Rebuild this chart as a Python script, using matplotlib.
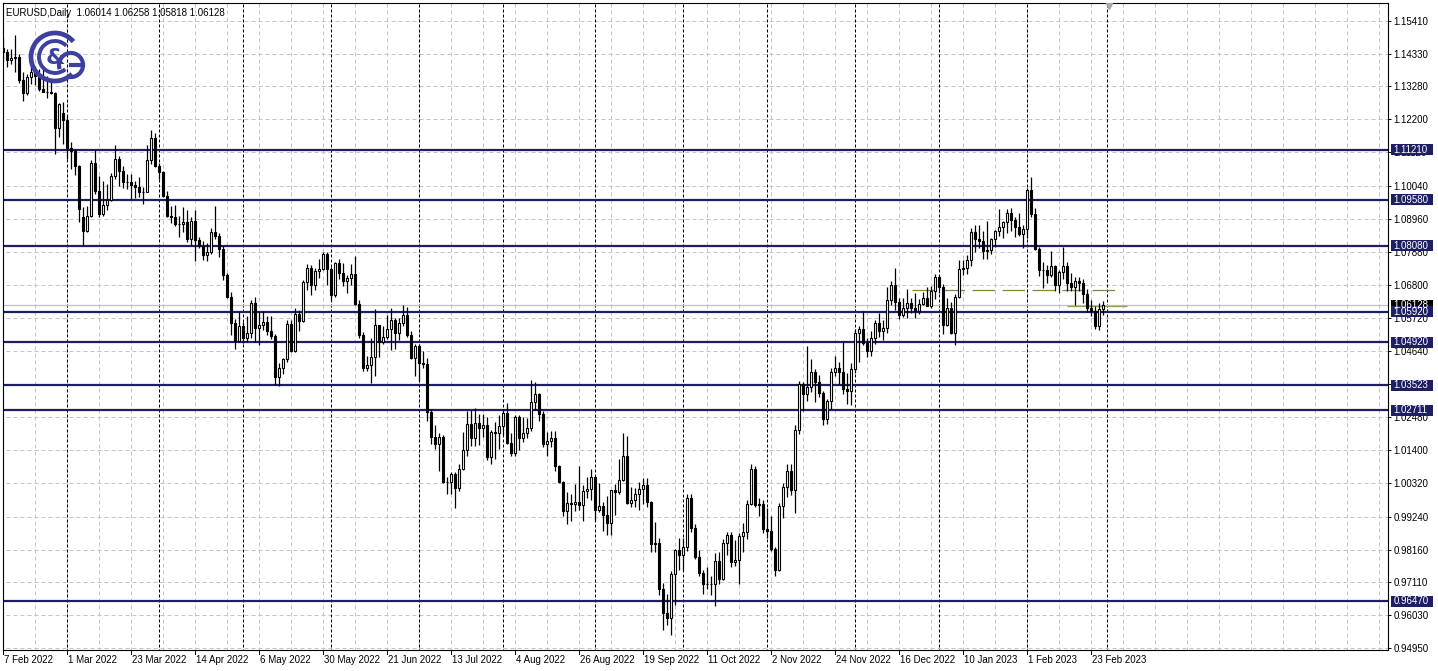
import pandas as pd
import matplotlib
matplotlib.use("Agg")
import matplotlib.pyplot as plt
from matplotlib.patches import Rectangle, Arc
from matplotlib.transforms import blended_transform_factory

plt.rcParams['font.family'] = ['Liberation Sans', 'DejaVu Sans']

# daily EURUSD candles, 7 Feb 2022 .. 28 Feb 2023
opens = [
    1.1452, 1.1440, 1.1415, 1.1420, 1.1425, 1.1348, 1.1306, 1.1358, 1.1374, 1.1360, 1.1320, 1.1309, 1.1308, 1.1307, 1.1192, 1.1240,
    1.1219, 1.1125, 1.1118, 1.1067, 1.0900, 1.0856, 1.0904, 1.1077, 1.0985, 1.0912, 1.0941, 1.0957, 1.1036, 1.1092, 1.1051, 1.1016, 1.1016, 1.1006, 1.0998, 1.0983, 1.0984, 1.1088, 1.1158,
    1.1067, 1.1047, 1.0971, 1.0905, 1.0902, 1.0878, 1.0877, 1.0885, 1.0829, 1.0889, 1.0826, 1.0808, 1.0779, 1.0788, 1.0853, 1.0838, 1.0798, 1.0713, 1.0640, 1.0557, 1.0498,
    1.0545, 1.0508, 1.0523, 1.0620, 1.0540, 1.0550, 1.0560, 1.0531, 1.0513, 1.0380, 1.0410, 1.0437, 1.0553, 1.0465, 1.0585, 1.0562, 1.0690, 1.0734, 1.0679, 1.0725, 1.0733, 1.0780,
    1.0732, 1.0647, 1.0750, 1.0720, 1.0693, 1.0703, 1.0717, 1.0616, 1.0518, 1.0408, 1.0418, 1.0446, 1.0548, 1.0495, 1.0510, 1.0535, 1.0566, 1.0522, 1.0554, 1.0583, 1.0518, 1.0442,
    1.0482, 1.0425, 1.0423, 1.0265, 1.0182, 1.0160, 1.0184, 1.0037, 1.0037, 1.0063, 1.0018, 1.0080, 1.0140, 1.0226, 1.0181, 1.0228, 1.0212, 1.0224, 1.0117, 1.0199, 1.0196,
    1.0220, 1.0262, 1.0165, 1.0132, 1.0248, 1.0181, 1.0197, 1.0212, 1.0298, 1.0323, 1.0257, 1.0160, 1.0170, 1.0179, 1.0088, 1.0036, 0.9943, 0.9969, 0.9966, 0.9973, 0.9963, 1.0006, 1.0015,
    1.0054, 0.9944, 0.9957, 0.9928, 0.9902, 1.0009, 1.0003, 1.0043, 1.0121, 0.9969, 0.9977, 0.9997, 1.0014, 1.0027, 0.9973, 0.9836, 0.9838, 0.9688, 0.9608, 0.9594, 0.9737, 0.9816,
    0.9800, 0.9824, 0.9986, 0.9888, 0.9791, 0.9740, 0.9704, 0.9704, 0.9704, 0.9778, 0.9721, 0.9838, 0.9864, 0.9775, 0.9782, 0.9862, 0.9875, 0.9964, 1.0078, 0.9963, 0.9964,
    0.9882, 0.9877, 0.9818, 0.9750, 0.9959, 1.0019, 1.0073, 1.0011, 1.0207, 1.0356, 1.0325, 1.0348, 1.0395, 1.0363, 1.0326, 1.0242, 1.0302, 1.0396, 1.0408, 1.0397, 1.0339, 1.0333,
    1.0405, 1.0522, 1.0535, 1.0490, 1.0465, 1.0508, 1.0555, 1.0531, 1.0538, 1.0630, 1.0680, 1.0625, 1.0583, 1.0605, 1.0622, 1.0603, 1.0594, 1.0617, 1.0638, 1.0611, 1.0660,
    1.0705, 1.0672, 1.0549, 1.0605, 1.0522, 1.0642, 1.0733, 1.0735, 1.0762, 1.0851, 1.0828, 1.0822, 1.0791, 1.0795, 1.0830, 1.0855, 1.0870, 1.0886, 1.0914, 1.0891, 1.0869, 1.0847,
    1.0863, 1.0990, 1.0912, 1.0798, 1.0727, 1.0727, 1.0712, 1.0740, 1.0678, 1.0723, 1.0741, 1.0687, 1.0673, 1.0694, 1.0686, 1.0650, 1.0604, 1.0596, 1.0546, 1.06014,
]
highs = [
    1.1484, 1.1450, 1.1449, 1.1495, 1.1433, 1.1373, 1.1368, 1.1395, 1.1394, 1.1385, 1.1395, 1.1362, 1.1345, 1.1310, 1.1274, 1.1276,
    1.1234, 1.1145, 1.1124, 1.1070, 1.0935, 1.0937, 1.1089, 1.1121, 1.1036, 1.1018, 1.1010, 1.1045, 1.1137, 1.1101, 1.1069, 1.1042, 1.1041, 1.1019, 1.1032, 1.0998, 1.1137, 1.1185, 1.1175,
    1.1077, 1.1052, 1.0987, 1.0937, 1.0941, 1.0904, 1.0933, 1.0925, 1.0900, 1.0924, 1.0835, 1.0822, 1.0815, 1.0866, 1.0936, 1.0850, 1.0806, 1.0720, 1.0656, 1.0570, 1.0593,
    1.0559, 1.0579, 1.0630, 1.0641, 1.0592, 1.0594, 1.0580, 1.0578, 1.0520, 1.0425, 1.0440, 1.0564, 1.0566, 1.0606, 1.0599, 1.0697, 1.0749, 1.0744, 1.0734, 1.0765, 1.0787, 1.0786,
    1.0737, 1.0753, 1.0764, 1.0750, 1.0711, 1.0748, 1.0774, 1.0630, 1.0525, 1.0447, 1.0506, 1.0601, 1.0550, 1.0546, 1.0583, 1.0606, 1.0573, 1.0571, 1.0615, 1.0607, 1.0530, 1.0487,
    1.0486, 1.0463, 1.0440, 1.0275, 1.0223, 1.0197, 1.0189, 1.0052, 1.0070, 1.0069, 1.0096, 1.0201, 1.0268, 1.0273, 1.0278, 1.0257, 1.0258, 1.0249, 1.0208, 1.0234, 1.0254,
    1.0275, 1.0294, 1.0195, 1.0254, 1.0254, 1.0248, 1.0247, 1.0368, 1.0364, 1.0328, 1.0267, 1.0200, 1.0203, 1.0202, 1.0091, 1.0040, 1.0003, 0.9999, 1.0030, 1.0090, 1.0028, 1.0054, 1.0079,
    1.0056, 1.0034, 0.9970, 0.9990, 1.0011, 1.0030, 1.0113, 1.0198, 1.0186, 1.0020, 1.0018, 1.0037, 1.0050, 1.0051, 0.9976, 0.9905, 0.9853, 0.9706, 0.9672, 0.9747, 0.9817, 0.9854,
    0.9855, 0.9999, 0.9999, 0.9900, 0.9815, 0.9749, 0.9759, 0.9731, 0.9806, 0.9809, 0.9850, 0.9875, 0.9873, 0.9849, 0.9870, 0.9904, 0.9977, 1.0094, 1.0088, 0.9985, 0.9977,
    0.9953, 0.9926, 0.9823, 0.9968, 1.0033, 1.0094, 1.0095, 1.0223, 1.0365, 1.0363, 1.0481, 1.0438, 1.0406, 1.0386, 1.0333, 1.0307, 1.0410, 1.0448, 1.0429, 1.0497, 1.0394, 1.0424,
    1.0535, 1.0545, 1.0595, 1.0505, 1.0531, 1.0564, 1.0588, 1.0566, 1.0673, 1.0694, 1.0736, 1.0637, 1.0637, 1.0666, 1.0638, 1.0655, 1.0634, 1.0658, 1.0672, 1.0677, 1.0714,
    1.0712, 1.0683, 1.0636, 1.0625, 1.0650, 1.0760, 1.0762, 1.0777, 1.0867, 1.0875, 1.0874, 1.0857, 1.0888, 1.0834, 1.0860, 1.0927, 1.0889, 1.0929, 1.0930, 1.0902, 1.0914, 1.0874,
    1.0995, 1.1033, 1.0930, 1.0805, 1.0755, 1.0746, 1.0790, 1.0744, 1.0729, 1.0804, 1.0754, 1.0720, 1.0705, 1.0705, 1.0700, 1.0665, 1.0629, 1.0612, 1.0621, 1.06258,
]
lows = [
    1.1410, 1.1392, 1.1401, 1.1375, 1.1340, 1.1280, 1.1300, 1.1335, 1.1332, 1.1314, 1.1308, 1.1290, 1.1302, 1.1106, 1.1161, 1.1138,
    1.1090, 1.1059, 1.1037, 1.0885, 1.0806, 1.0853, 1.0900, 1.0976, 1.0901, 1.0905, 1.0925, 1.0952, 1.1025, 1.1003, 1.0996, 1.0992, 1.0960, 1.0962, 1.0967, 1.0944, 1.0982, 1.1075, 1.1065,
    1.1027, 1.0966, 1.0900, 1.0883, 1.0871, 1.0837, 1.0852, 1.0820, 1.0808, 1.0757, 1.0801, 1.0761, 1.0757, 1.0782, 1.0830, 1.0770, 1.0697, 1.0636, 1.0515, 1.0471, 1.0493,
    1.0490, 1.0493, 1.0505, 1.0494, 1.0483, 1.0532, 1.0516, 1.0503, 1.0354, 1.0349, 1.0389, 1.0429, 1.0460, 1.0461, 1.0530, 1.0558, 1.0664, 1.0647, 1.0664, 1.0702, 1.0727, 1.0680,
    1.0627, 1.0640, 1.0700, 1.0677, 1.0653, 1.0678, 1.0615, 1.0506, 1.0398, 1.0398, 1.0359, 1.0382, 1.0444, 1.0486, 1.0504, 1.0469, 1.0470, 1.0500, 1.0547, 1.0509, 1.0438, 1.0382,
    1.0366, 1.0410, 1.0236, 1.0161, 1.0143, 1.0072, 1.0033, 0.9999, 0.9998, 0.9952, 1.0008, 1.0075, 1.0123, 1.0153, 1.0153, 1.0159, 1.0183, 1.0109, 1.0096, 1.0113, 1.0145,
    1.0190, 1.0160, 1.0123, 1.0122, 1.0141, 1.0168, 1.0179, 1.0202, 1.0273, 1.0235, 1.0152, 1.0122, 1.0152, 1.0074, 1.0032, 0.9926, 0.9901, 0.9910, 0.9942, 0.9946, 0.9910, 0.9986, 0.9978,
    0.9910, 0.9940, 0.9877, 0.9864, 0.9864, 0.9929, 0.9997, 1.0040, 0.9966, 0.9955, 0.9955, 0.9945, 0.9966, 0.9955, 0.9808, 0.9807, 0.9669, 0.9553, 0.9570, 0.9536, 0.9636, 0.9748,
    0.9751, 0.9810, 0.9875, 0.9784, 0.9730, 0.9670, 0.9686, 0.9668, 0.9632, 0.9705, 0.9716, 0.9800, 0.9758, 0.9764, 0.9705, 0.9809, 0.9852, 0.9963, 0.9955, 0.9925, 0.9870,
    0.9854, 0.9810, 0.9730, 0.9746, 0.9920, 0.9989, 0.9994, 0.9935, 1.0192, 1.0270, 1.0302, 1.0330, 1.0299, 1.0315, 1.0223, 1.0226, 1.0276, 1.0383, 1.0356, 1.0325, 1.0290, 1.0288,
    1.0393, 1.0429, 1.0484, 1.0443, 1.0448, 1.0486, 1.0510, 1.0500, 1.0523, 1.0613, 1.0598, 1.0568, 1.0575, 1.0572, 1.0589, 1.0573, 1.0584, 1.0613, 1.0610, 1.0605, 1.0635,
    1.0653, 1.0519, 1.0546, 1.0520, 1.0483, 1.0637, 1.0712, 1.0714, 1.0740, 1.0788, 1.0800, 1.0766, 1.0765, 1.0780, 1.0804, 1.0840, 1.0834, 1.0848, 1.0856, 1.0837, 1.0838, 1.0801,
    1.0832, 1.0901, 1.0795, 1.0710, 1.0669, 1.0687, 1.0706, 1.0660, 1.0655, 1.0700, 1.0660, 1.0660, 1.0613, 1.0660, 1.0620, 1.0592, 1.0577, 1.0536, 1.0533, 1.05818,
]
closes = [
    1.1440, 1.1415, 1.1420, 1.1425, 1.1348, 1.1306, 1.1358, 1.1374, 1.1360, 1.1320, 1.1309, 1.1308, 1.1307, 1.1192, 1.1270, 1.1219,
    1.1125, 1.1118, 1.1067, 1.0928, 1.0856, 1.0904, 1.1077, 1.0985, 1.0912, 1.0941, 1.0957, 1.1036, 1.1092, 1.1051, 1.1016, 1.1016, 1.1006, 1.0998, 1.0983, 1.0984, 1.1088, 1.1158, 1.1067,
    1.1047, 1.0971, 1.0905, 1.0902, 1.0878, 1.0877, 1.0885, 1.0829, 1.0889, 1.0826, 1.0808, 1.0779, 1.0788, 1.0853, 1.0838, 1.0798, 1.0713, 1.0640, 1.0557, 1.0498, 1.0545,
    1.0508, 1.0523, 1.0620, 1.0540, 1.0550, 1.0560, 1.0531, 1.0513, 1.0380, 1.0410, 1.0437, 1.0553, 1.0465, 1.0585, 1.0562, 1.0690, 1.0734, 1.0679, 1.0725, 1.0733, 1.0780, 1.0732,
    1.0647, 1.0750, 1.0720, 1.0693, 1.0703, 1.0717, 1.0616, 1.0518, 1.0408, 1.0418, 1.0446, 1.0548, 1.0495, 1.0510, 1.0535, 1.0566, 1.0522, 1.0554, 1.0583, 1.0518, 1.0442, 1.0482,
    1.0425, 1.0423, 1.0265, 1.0182, 1.0160, 1.0184, 1.0037, 1.0037, 1.0063, 1.0018, 1.0080, 1.0140, 1.0226, 1.0181, 1.0228, 1.0212, 1.0224, 1.0117, 1.0199, 1.0196, 1.0220,
    1.0262, 1.0165, 1.0132, 1.0248, 1.0181, 1.0197, 1.0212, 1.0298, 1.0323, 1.0257, 1.0160, 1.0170, 1.0179, 1.0088, 1.0036, 0.9943, 0.9969, 0.9966, 0.9973, 0.9963, 1.0006, 1.0015, 1.0054,
    0.9944, 0.9957, 0.9928, 0.9902, 1.0009, 1.0003, 1.0043, 1.0121, 0.9969, 0.9977, 0.9997, 1.0014, 1.0027, 0.9973, 0.9836, 0.9838, 0.9688, 0.9608, 0.9594, 0.9737, 0.9816, 0.9800,
    0.9824, 0.9986, 0.9888, 0.9791, 0.9740, 0.9704, 0.9704, 0.9704, 0.9778, 0.9721, 0.9838, 0.9864, 0.9775, 0.9782, 0.9862, 0.9875, 0.9964, 1.0078, 0.9963, 0.9964, 0.9882,
    0.9877, 0.9818, 0.9750, 0.9959, 1.0019, 1.0073, 1.0011, 1.0207, 1.0356, 1.0325, 1.0348, 1.0395, 1.0363, 1.0326, 1.0242, 1.0302, 1.0396, 1.0408, 1.0397, 1.0339, 1.0333, 1.0405,
    1.0522, 1.0535, 1.0490, 1.0465, 1.0508, 1.0555, 1.0531, 1.0538, 1.0630, 1.0680, 1.0625, 1.0583, 1.0605, 1.0622, 1.0603, 1.0594, 1.0617, 1.0638, 1.0611, 1.0660, 1.0705,
    1.0672, 1.0549, 1.0605, 1.0522, 1.0642, 1.0733, 1.0735, 1.0762, 1.0851, 1.0828, 1.0822, 1.0791, 1.0795, 1.0830, 1.0855, 1.0870, 1.0886, 1.0914, 1.0891, 1.0869, 1.0847, 1.0863,
    1.0990, 1.0912, 1.0798, 1.0727, 1.0727, 1.0712, 1.0740, 1.0678, 1.0723, 1.0741, 1.0687, 1.0673, 1.0694, 1.0686, 1.0650, 1.0604, 1.0596, 1.0546, 1.0601, 1.06128,
]

# horizontal levels drawn on the chart and their price tags
levels = [1.11210, 1.09580, 1.08080, 1.05920, 1.04920, 1.03523, 1.02711, 0.96470]
bid = 1.06128
zone_line = 1.0663      # dashed olive line
zone_line2 = 1.0612

price_ticks = [1.15410, 1.14330, 1.13280, 1.12200, 1.11120, 1.10040, 1.08960, 1.07880,
               1.06800, 1.05720, 1.04640, 1.03560, 1.02480, 1.01400, 1.00320, 0.99240,
               0.98160, 0.97110, 0.96030, 0.94950]
date_labels = ['7 Feb 2022', '1 Mar 2022', '23 Mar 2022', '14 Apr 2022', '6 May 2022',
               '30 May 2022', '21 Jun 2022', '13 Jul 2022', '4 Aug 2022', '26 Aug 2022',
               '19 Sep 2022', '11 Oct 2022', '2 Nov 2022', '24 Nov 2022', '16 Dec 2022',
               '10 Jan 2023', '1 Feb 2023', '23 Feb 2023']

dates = pd.bdate_range('2022-02-07', '2023-02-28').drop(pd.Timestamp('2022-12-26'))
n = len(closes)
xs = list(range(n))

W, H = 1438, 671
fig = plt.figure(figsize=(W / 100, H / 100), dpi=100)
ax = fig.add_axes([2.5 / W, 21 / H, 1385.5 / W, 647.3 / H])
ax.set_xlim(-0.125, 346.25)
ax.set_ylim(0.94885, 1.16007)
xmax = 346.25

navy = '#1e1e64'
grid_c = '#c4c4c4'

# grid
ax.hlines(price_ticks, -1, xmax, colors=grid_c, lw=0.72, linestyles=(0, (4, 3)), zorder=0.5)
ax.vlines(range(0, 347, 8), 0.9, 1.2, colors=grid_c, lw=0.72, linestyles=(0, (4, 3)), zorder=0.5)

# month separators
seps = [i for i in range(1, n) if dates[i].month != dates[i - 1].month] + [n]
ax.vlines(seps, 0.9, 1.2, colors='black', lw=0.72, linestyles=(0, (3, 2)), zorder=0.6)

# levels, bid and olive lines
ax.hlines(levels, -1, xmax, colors=navy, lw=1.6, zorder=1)
ax.axhline(bid, color='#c0c0c0', lw=0.9, zorder=0.9)
ax.hlines(zone_line, 227.3, 279.3, colors='#85853d', lw=0.9, linestyles=(0, (18, 6)), zorder=1.2)
ax.hlines(zone_line2, 266, 281, colors='#9a9a50', lw=0.9, zorder=1.2)

# candles
ax.vlines(xs, lows, highs, colors='black', lw=0.9, zorder=2)
bottoms = [min(o, c) for o, c in zip(opens, closes)]
heights = [max(abs(c - o), 0.00008) for o, c in zip(opens, closes)]
faces = ['white' if c >= o else 'black' for o, c in zip(opens, closes)]
ax.bar(xs, heights, bottom=bottoms, width=0.56, color=faces, edgecolor='black',
       linewidth=0.8, zorder=2.1)

for s in ax.spines.values():
    s.set_color('black')
    s.set_linewidth(0.8)

# price axis
ax.yaxis.tick_right()
ax.set_yticks(price_ticks)
ax.set_yticklabels([f'{v:.5f}' for v in price_ticks])
ax.tick_params(axis='y', direction='out', length=2.5, width=0.7, pad=1.5, labelsize=7)
ax.set_xticks([])

tr = blended_transform_factory(ax.transAxes, ax.transData)
bx0 = (1391 - 2.5) / 1385.5
bw = 42 / 1385.5
bh = 11 / 3064.5


def price_tag(y, txt, fc):
    ax.add_patch(Rectangle((bx0, y - bh / 2), bw, bh, transform=tr, fc=fc, ec='none',
                           clip_on=False, zorder=5))
    ax.text(bx0 + 2.5 / 1385.5, y, txt, transform=tr, color='white', fontsize=7,
            va='center', ha='left', zorder=6, clip_on=False)


price_tag(bid, f'{bid:.5f}', 'black')
for lv in levels:
    price_tag(lv, f'{lv:.5f}', navy)

# date axis
tr2 = blended_transform_factory(ax.transData, ax.transAxes)
for k, lab in enumerate(date_labels):
    i = k * 16
    ax.plot([i, i], [0, -4 / 647.3], color='black', lw=0.7, transform=tr2, clip_on=False)
    ax.text(i + 0.2, -10 / 647.3, lab, transform=tr2, fontsize=7, ha='left', va='center',
            clip_on=False)

# chart shift marker
ax.plot([276.5], [1.1591], marker='v', color='#a8a8a8', ms=4, zorder=3)

fig.text(6 / W, 1 - 13 / H, 'EURUSD,Daily  1.06014 1.06258 1.05818 1.06128', fontsize=7,
         va='center', ha='left')

# logo
lg = fig.add_axes([28 / W, (H - 86) / H, 58 / W, 58 / H])
lg.set_xlim(0, 58)
lg.set_ylim(58, 0)
lg.axis('off')
blue = '#3d40a0'
lg.add_patch(Arc((27, 29), 48, 48, theta1=45, theta2=320, color=blue, lw=3.4))
lg.add_patch(Arc((27, 29), 32, 32, theta1=50, theta2=315, color=blue, lw=2.8))
lg.add_patch(Arc((43, 37), 24, 24, theta1=-200, theta2=110, color=blue, lw=3.0))
lg.plot([43, 55], [37, 37], color=blue, lw=3.0)
lg.text(27, 30, '&', color=blue, fontsize=16, fontweight='bold', ha='center', va='center',
        family='DejaVu Sans')

fig.savefig('out.png', dpi=100)
